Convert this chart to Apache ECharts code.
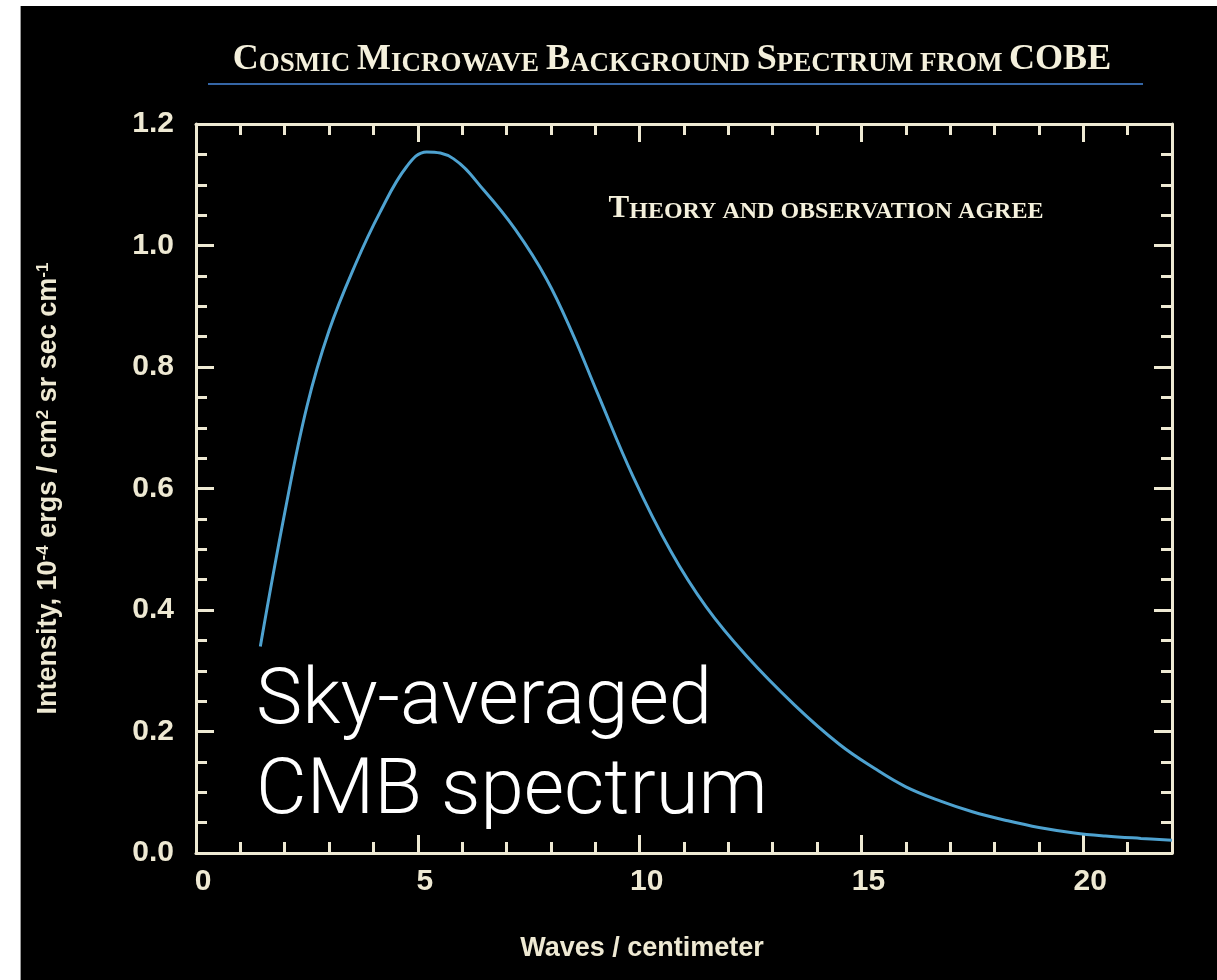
<!DOCTYPE html>
<html>
<head>
<meta charset="utf-8">
<script src="https://cdn.jsdelivr.net/npm/echarts@6/dist/echarts.min.js"></script>
<style>
  html, body { margin: 0; padding: 0; background: #fff; }
  #chart { width: 1217px; height: 980px; }
</style>
</head>
<body>
<div id="chart"></div>
<script>
// Sky-averaged CMB intensity versus wave number (waves per cm)
const waveNumbers = [1.45, 2.0, 2.5, 3.0, 3.6, 4.15, 4.75, 5.2, 5.8, 6.5, 7.2, 7.9, 8.5, 9.05,
  9.85, 10.7, 11.5, 12.4, 13.5, 14.5, 15.3, 16.0, 16.8, 17.5, 18.3, 19.0, 19.8, 20.5, 21.3, 22.0];
const intensity = [0.34, 0.56, 0.735, 0.86, 0.97, 1.055, 1.13, 1.154, 1.143, 1.09, 1.026, 0.945, 0.853, 0.757,
  0.62, 0.497, 0.405, 0.325, 0.243, 0.179, 0.139, 0.109, 0.085, 0.068, 0.053, 0.042, 0.033, 0.028, 0.024, 0.021];

// Tick labels
const xTickLabels = ['0', '5', '10', '15', '20'];
const yTickLabels = ['0.0', '0.2', '0.4', '0.6', '0.8', '1.0', '1.2'];

const titleText = 'Cosmic Microwave Background Spectrum from COBE';
const noteText = 'Theory and observation agree';
const captionLines = ['Sky-averaged', 'CMB spectrum'];

const frame = '#eee9d3';
const curveColor = '#4ea2d0';
const sansBold = '"Liberation Sans", Arial, sans-serif';
const serif = '"Liberation Serif", "Times New Roman", serif';
const lightSans = 'Roboto, "Open Sans", sans-serif';

// Turn mixed-case text into rich tokens that draw as small capitals
function smallCaps(text) {
  let out = '', run = '', kind = null;
  for (const ch of text) {
    const k = /[A-Z]/.test(ch) ? 'big' : 'small';
    if (k !== kind && run) { out += '{' + kind + '|' + run + '}'; run = ''; }
    kind = k;
    run += ch.toUpperCase();
  }
  if (run) out += '{' + kind + '|' + run + '}';
  return out;
}

const xLabelOf = v => {
  const i = v / 5;
  return Number.isInteger(i) && i < xTickLabels.length ? xTickLabels[i] : '';
};
const yLabelOf = v => {
  const i = Math.round(v / 0.2);
  return Math.abs(i * 0.2 - v) < 1e-6 ? yTickLabels[i] : '';
};

const gridBox = { left: 196, right: 45, top: 124, bottom: 127, containLabel: false };

function xAx(gridIndex, position, interval, tickLen, withLine, extra) {
  return Object.assign({
    type: 'value', gridIndex, position, min: 0, max: 22, interval,
    axisLine: { show: withLine, onZero: false, lineStyle: { color: frame, width: 3 } },
    axisTick: { show: true, inside: true, length: tickLen, lineStyle: { color: frame, width: 3 } },
    axisLabel: { show: false },
    splitLine: { show: false }
  }, extra || {});
}
function yAx(gridIndex, position, interval, tickLen, withLine, extra) {
  return Object.assign({
    type: 'value', gridIndex, position, min: 0, max: 1.2, interval,
    axisLine: { show: withLine, onZero: false, lineStyle: { color: frame, width: 3 } },
    axisTick: { show: true, inside: true, length: tickLen, lineStyle: { color: frame, width: 3 } },
    axisLabel: { show: false },
    splitLine: { show: false }
  }, extra || {});
}

const chart = echarts.init(document.getElementById('chart'), null, { renderer: 'canvas' });

chart.setOption({
  backgroundColor: '#000',
  animation: false,
  grid: [Object.assign({}, gridBox), Object.assign({}, gridBox)],
  xAxis: [
    xAx(0, 'bottom', 5, 18, true, {
      axisLabel: {
        show: true, formatter: xLabelOf, color: frame, fontSize: 30, fontWeight: 'bold',
        fontFamily: sansBold, margin: 14, padding: [0, 0, 0, 14]
      },
      name: 'Waves / centimeter', nameLocation: 'middle', nameGap: 82,
      nameTextStyle: { color: frame, fontSize: 27, fontWeight: 'bold', fontFamily: sansBold, padding: [0, 84, 0, 0] }
    }),
    xAx(0, 'top', 5, 18, true),
    xAx(1, 'bottom', 1, 11, false),
    xAx(1, 'top', 1, 11, false)
  ],
  yAxis: [
    yAx(0, 'left', 0.2, 18, true, {
      axisLabel: {
        show: true, formatter: yLabelOf, color: frame, fontSize: 30, fontWeight: 'bold',
        fontFamily: sansBold, margin: 22
      },
      name: 'Intensity, 10{sup|-4} ergs / cm{sup|2} sr sec cm{sup|-1}',
      nameLocation: 'middle', nameGap: 134,
      nameTextStyle: {
        color: frame, fontSize: 27, fontWeight: 'bold', fontFamily: sansBold,
        rich: {
          sup: { color: frame, fontSize: 17, fontWeight: 'bold', fontFamily: sansBold, verticalAlign: 'top', lineHeight: 27 }
        }
      }
    }),
    yAx(0, 'right', 0.2, 18, true),
    yAx(1, 'left', 0.05, 11, false),
    yAx(1, 'right', 0.05, 11, false)
  ],
  series: [{
    type: 'line',
    xAxisIndex: 0, yAxisIndex: 0,
    data: waveNumbers.map((x, i) => [x, intensity[i]]),
    smooth: 0.4,
    showSymbol: false,
    silent: true,
    lineStyle: { color: curveColor, width: 3 },
    z: 3
  }],
  graphic: [
    // white margins along the left and top edges
    { type: 'rect', left: 0, top: 0, shape: { width: 20, height: 980 }, style: { fill: '#fff' }, z: 100 },
    { type: 'rect', left: 0, top: 0, shape: { width: 1217, height: 6 }, style: { fill: '#fff' }, z: 100 },
    { type: 'line', shape: { x1: 20.5, y1: 6, x2: 20.5, y2: 980 }, style: { stroke: '#9a9a9a', lineWidth: 1 }, z: 100 },
    // heading with its rule
    {
      type: 'text', x: 672, y: 78, z: 10,
      style: {
        text: smallCaps(titleText), align: 'center', verticalAlign: 'bottom', fill: '#f4f0dc',
        rich: {
          big: { fontSize: 36, fontWeight: 'bold', fontFamily: serif, fill: '#f4f0dc', verticalAlign: 'bottom' },
          small: { fontSize: 27, fontWeight: 'bold', fontFamily: serif, fill: '#f4f0dc', verticalAlign: 'bottom' }
        }
      }
    },
    { type: 'line', shape: { x1: 208, y1: 84, x2: 1143, y2: 84 }, style: { stroke: '#3566a6', lineWidth: 2 }, z: 10 },
    {
      type: 'text', x: 826, y: 224, z: 10,
      style: {
        text: smallCaps(noteText.charAt(0).toUpperCase() + noteText.slice(1)),
        align: 'center', verticalAlign: 'bottom', fill: '#f4f0dc',
        rich: {
          big: { fontSize: 31, fontWeight: 'bold', fontFamily: serif, fill: '#f4f0dc', verticalAlign: 'bottom' },
          small: { fontSize: 24, fontWeight: 'bold', fontFamily: serif, fill: '#f4f0dc', verticalAlign: 'bottom' }
        }
      }
    },
    // caption
    {
      type: 'text', x: 256, y: 664, z: 10,
      style: { text: captionLines[0], fill: '#fff', fontSize: 78, fontWeight: 300, fontFamily: lightSans, verticalAlign: 'top' }
    },
    {
      type: 'text', x: 256, y: 754, z: 10,
      style: { text: captionLines[1], fill: '#fff', fontSize: 78, fontWeight: 300, fontFamily: lightSans, verticalAlign: 'top' }
    }
  ]
});
</script>
</body>
</html>
